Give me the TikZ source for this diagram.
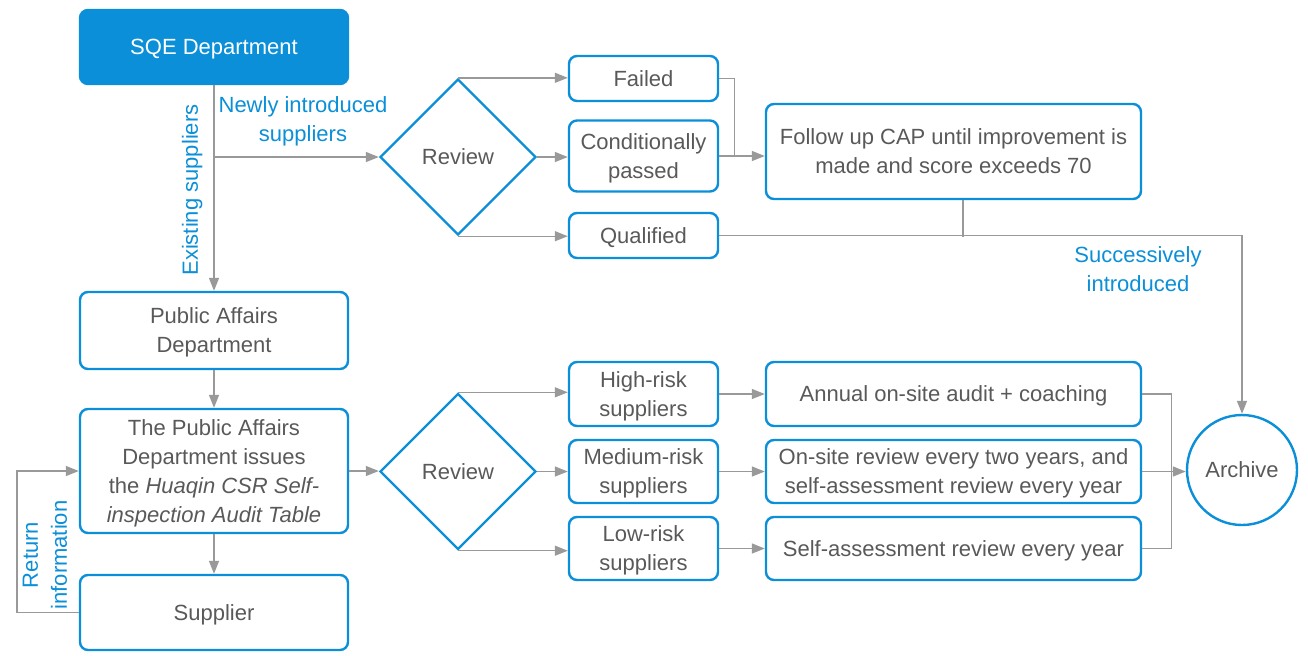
\documentclass[tikz,border=0pt]{standalone}
\usepackage{fontspec}
\setmainfont{Liberation Sans}
\usepackage{tikz}
\usetikzlibrary{positioning, arrows.meta, shapes.geometric}
\definecolor{cblue}{HTML}{0A8FD8}
\definecolor{ctext}{HTML}{595959}
\definecolor{cline}{HTML}{999999}

\begin{document}
\begin{tikzpicture}[x=0.5pt, y=-0.5pt,
  every node/.style={font=\fontsize{11}{14.5}\selectfont,
    execute at begin node={\rule{0pt}{0.93em}}, execute at end node={\rule[-0.21em]{0pt}{0pt}}},
  box/.style={draw=cblue, line width=1.2pt, rounded corners=4pt, text=ctext, align=center, inner sep=1pt},
  multi/.style={text depth=-2.5pt},
  sqebox/.style={box, fill=cblue, text=white},
  decision/.style={diamond, draw=cblue, line width=1.2pt, text=ctext, inner sep=0pt, minimum width=78pt, minimum height=78pt},
  archivenode/.style={circle, draw=cblue, line width=1.2pt, text=ctext, minimum size=55pt, inner sep=0pt},
  line/.style={draw=cline, line width=0.7pt},
  link/.style={line, -{Triangle[length=6.5pt, width=5pt]}},
  note/.style={text=cblue, align=center}]
\useasboundingbox (0,0) rectangle (1308,655);
% left column
\node (sqe) [sqebox, minimum width=134pt, minimum height=37pt] at (214,47) {SQE Department};
\node (pad) [box, multi, minimum width=134pt, minimum height=38.5pt] at (214,330.5) {Public Affairs\\Department};
\node (issue) [box, multi, minimum width=134pt, minimum height=62pt] at (214,471) {The Public Affairs\\Department issues\\the \textit{Huaqin CSR Self-}\\\textit{inspection Audit Table}};
\node (supp) [box, minimum width=134pt, minimum height=37.5pt] at (214,612.5) {Supplier};
% reviews
\node (rev1) [decision] at (458,157) {Review};
\node (rev2) [decision] at (458,471.5) {Review};
% results of new suppliers
\node (failed) [box, minimum width=74.5pt, minimum height=22.5pt] at (643.5,78.5) {Failed};
\node (cond) [box, multi, minimum width=74.5pt, minimum height=35.5pt] at (643.5,156) {Conditionally\\passed};
\node (qual) [box, minimum width=74.5pt, minimum height=22.5pt] at (643.5,235.5) {Qualified};
\node (cap) [box, multi, minimum width=187.5pt, minimum height=47.5pt] at (953.5,151.5) {Follow up CAP until improvement is\\made and score exceeds 70};
% risk levels
\node (high) [box, multi, minimum width=74.5pt, minimum height=32pt] at (643.5,394) {High-risk\\suppliers};
\node (med) [box, multi, minimum width=74.5pt, minimum height=31.5pt] at (643.5,471.5) {Medium-risk\\suppliers};
\node (low) [box, multi, minimum width=74.5pt, minimum height=31.5pt] at (643.5,548.5) {Low-risk\\suppliers};
\node (annual) [box, minimum width=187.5pt, minimum height=32pt] at (953.5,394) {Annual on-site audit + coaching};
\node (onsite) [box, multi, minimum width=187.5pt, minimum height=31.5pt] at (953.5,471.5) {On-site review every two years, and\\self-assessment review every year};
\node (self) [box, minimum width=187.5pt, minimum height=31.5pt] at (953.5,548.5) {Self-assessment review every year};
\node (archive) [archivenode] at (1242,470) {Archive};
% labels
\node (newly) [note] at (303,121) {Newly introduced\\suppliers};
\node (existing) [note, rotate=90] at (190,190) {Existing suppliers};
\node (succ) [note] at (1138,271) {Successively\\introduced};
\node (return) [note, rotate=90] at (47,555) {Return\\information};
% connectors
\draw[link] (sqe) -- (pad);
\draw[link] (sqe.south |- rev1.west) -- (rev1.west);
\draw[link] (rev1.north) -- (rev1.north -| failed.west);
\draw[link] (rev1.east) -- (rev1.east -| cond.west);
\draw[link] (rev1.south) -- (rev1.south -| qual.west);
\draw[line] (failed.east) -- ++(15,0) |- (cond.east);
\draw[link] (cond.east) -- (cond.east -| cap.west);
\draw[line] ([xshift=4.75pt]cap.south) -- ++(0,37);
\draw[link] (qual.east) -| (archive.north);
\draw[link] (pad) -- (issue);
\draw[link] (issue) -- (supp);
\draw[link] (supp.west) -- ++(-62,0) |- (issue.west);
\draw[link] (issue.east) -- (issue.east -| rev2.west);
\draw[link] (rev2.north) -- (rev2.north -| high.west);
\draw[link] (rev2.east) -- (rev2.east -| med.west);
\draw[link] (rev2.south) -- (rev2.south -| low.west);
\draw[link] (high) -- (annual);
\draw[link] (med) -- (onsite);
\draw[link] (low) -- (self);
\draw[line] (annual.east) -- ++(29,0) |- (self.east);
\draw[link] (onsite.east) -- (onsite.east -| archive.west);
\end{tikzpicture}
\end{document}
